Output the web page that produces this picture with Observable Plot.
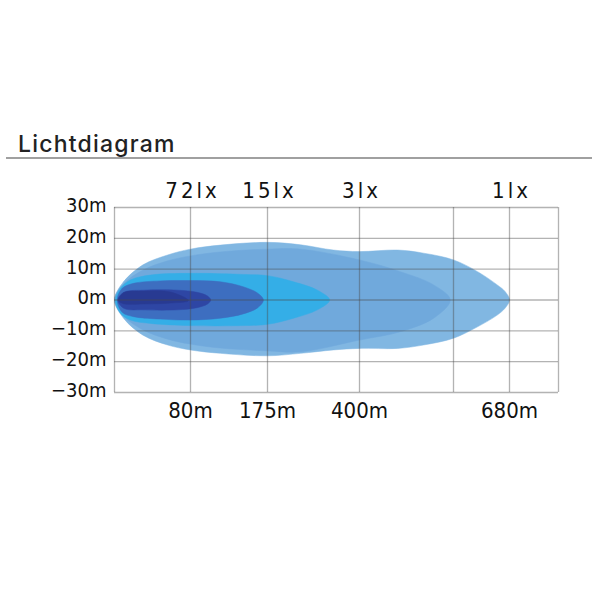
<!DOCTYPE html>
<html>
<head>
<meta charset="utf-8">
<script src="https://cdn.jsdelivr.net/npm/d3@7"></script>
<script src="https://cdn.jsdelivr.net/npm/@observablehq/plot@0.6"></script>
<style>
  body { margin: 0; background: #fff; width: 600px; }
  #wrap { padding-top: 132px; }
  #title {
    margin: 0 8px 0 6px;
    padding-left: 12px;
    font-family: Inter, "Open Sans", sans-serif;
    font-weight: 500;
    font-size: 23px;
    line-height: 25px;
    letter-spacing: 1.2px;
    color: #222;
    border-bottom: 2px solid #a0a0a0;
  }
  #chart svg { display: block; }
</style>
</head>
<body>
<div id="wrap">
  <div id="title">Lichtdiagram</div>
  <div id="chart"></div>
</div>
<script>
// Grid and axis values (meters / lux)
const gridMeters = [0, 80, 175, 400, 575, 680, 770];
const distanceTicks = [80, 175, 400, 680];
const luxLabels = ["72lx", "15lx", "3lx", "1lx"];
const widthTicks = [-30, -20, -10, 0, 10, 20, 30];

// Beam outlines: distance (m), upper edge (m), lower edge (m)
const beam1X = [0, 9.5, 30, 56, 80, 117, 175, 256, 336, 400, 471, 519, 575, 620, 657, 672, 680];
const beam1Top = [0, 5.9, 11.4, 14.6, 16.5, 17.8, 18.7, 17.9, 16.2, 15.7, 16.2, 15.2, 13.0, 9.2, 4.9, 2.7, 0];
const beam1Bottom = [0, -5.9, -11.4, -14.6, -16.2, -17.3, -18.1, -17.3, -16.2, -15.7, -15.7, -14.6, -12.4, -8.7, -4.9, -2.6, 0];

const beam2X = [0, 9.5, 30, 56, 80, 117, 175, 256, 400, 476, 538, 569];
const beam2Top = [0, 5.2, 9.7, 12.7, 14.3, 15.6, 16.5, 16.5, 13.0, 9.2, 4.9, 0];
const beam2Bottom = [0, -5.2, -9.7, -12.7, -14.3, -15.6, -16.5, -16.8, -13.0, -10.3, -5.9, 0];

const beam3X = [1, 6.3, 16.8, 37.9, 80, 145, 175, 239, 297, 327];
const beam3Top = [0, 3.8, 6.5, 8.1, 8.65, 8.3, 7.9, 5.9, 3.2, 0];
const beam3Bottom = [0, -4.3, -6.5, -7.6, -8.3, -8.3, -7.9, -5.9, -3.2, 0];

const beam4X = [2.8, 8.1, 20, 48, 80, 117, 145, 163, 170];
const beam4Top = [0, 3.8, 5.4, 6.2, 6.3, 5.9, 4.3, 2.2, 0];
const beam4Bottom = [0, -4.0, -5.4, -6.2, -6.5, -5.9, -4.5, -2.5, 0];

const beam5X = [3.5, 9.8, 31, 66, 88, 101, 105];
const beam5Top = [0, 2.5, 3.2, 3.2, 2.5, 1.3, 0];
const beam5Bottom = [0, -2.7, -3.2, -3.2, -2.5, -1.3, 0];

const beam6X = [4.2, 9.5, 30.5, 59, 78];
const beam6Top = [-0.2, 2.3, 2.9, 2.6, -0.2];
const beam6Bottom = [-0.2, -1.2, -1.3, -1.0, -0.2];

// the distance grid is not evenly spaced: warp meters onto the grid columns
const gridOffsets = [0, 76, 153, 245, 339, 395, 444];
const warp = d3.scaleLinear().domain(gridMeters).range(gridOffsets);

// closed outline: along the upper edge, back along the lower edge
function outline(xs, tops, bottoms) {
  const upper = xs.map((x, i) => ({x, y: tops[i]}));
  const lower = xs.slice(1, -1).map((x, i) => ({x, y: bottoms[i + 1]})).reverse();
  return upper.concat(lower);
}

const layers = [
  {data: outline(beam1X, beam1Top, beam1Bottom), fill: "#81b7e2"},
  {data: outline(beam2X, beam2Top, beam2Bottom), fill: "#70a9dc"},
  {data: outline(beam3X, beam3Top, beam3Bottom), fill: "#34aee7"},
  {data: outline(beam4X, beam4Top, beam4Bottom), fill: "#3d6ec0"},
  {data: outline(beam5X, beam5Top, beam5Bottom), fill: "#2e46a4"},
  {data: outline(beam6X, beam6Top, beam6Bottom), fill: "#283a92"}
];

const luxTable = distanceTicks.map((d, i) => ({distance: d, lux: luxLabels[i]}));

const chart = Plot.plot({
  width: 600,
  height: 268,
  marginLeft: 114,
  marginRight: 42,
  marginTop: 48,
  marginBottom: 35,
  style: {
    fontFamily: "'DejaVu Sans Condensed', 'DejaVu Sans', sans-serif",
    fontStretch: "condensed",
    color: "#111",
    background: "#fff"
  },
  x: {
    domain: [0, 444],
    transform: warp
  },
  y: {
    domain: [-30, 30]
  },
  marks: [
    ...layers.map(l => Plot.line(l.data, {
      x: "x",
      y: "y",
      curve: "catmull-rom-closed",
      fill: l.fill,
      stroke: l.fill,
      strokeWidth: 0.5
    })),
    Plot.ruleX(gridMeters, {stroke: "#4a4a4a", strokeOpacity: 0.42, strokeWidth: 1.3}),
    Plot.ruleY(widthTicks, {stroke: "#4a4a4a", strokeOpacity: 0.42, strokeWidth: 1.3}),
    Plot.axisY(widthTicks, {
      label: null,
      tickSize: 0,
      tickPadding: 8,
      fontSize: 20,
      dy: -2,
      tickFormat: d => d < 0 ? `\u2212${-d}m` : `${d}m`
    }),
    Plot.axisX(distanceTicks, {
      anchor: "bottom",
      label: null,
      tickSize: 0,
      tickPadding: 10,
      fontSize: 22,
      tickFormat: d => `${d}m`
    }),
    Plot.text(luxTable, {
      x: "distance",
      text: "lux",
      frameAnchor: "top",
      lineAnchor: "middle",
      dy: -17,
      dx: 2,
      fontSize: 22,
      fill: "#111"
    })
  ]
});

document.getElementById("chart").appendChild(chart);
d3.select(chart).selectAll('g[aria-label="text"] text').style("letter-spacing", "3px");
</script>
</body>
</html>
